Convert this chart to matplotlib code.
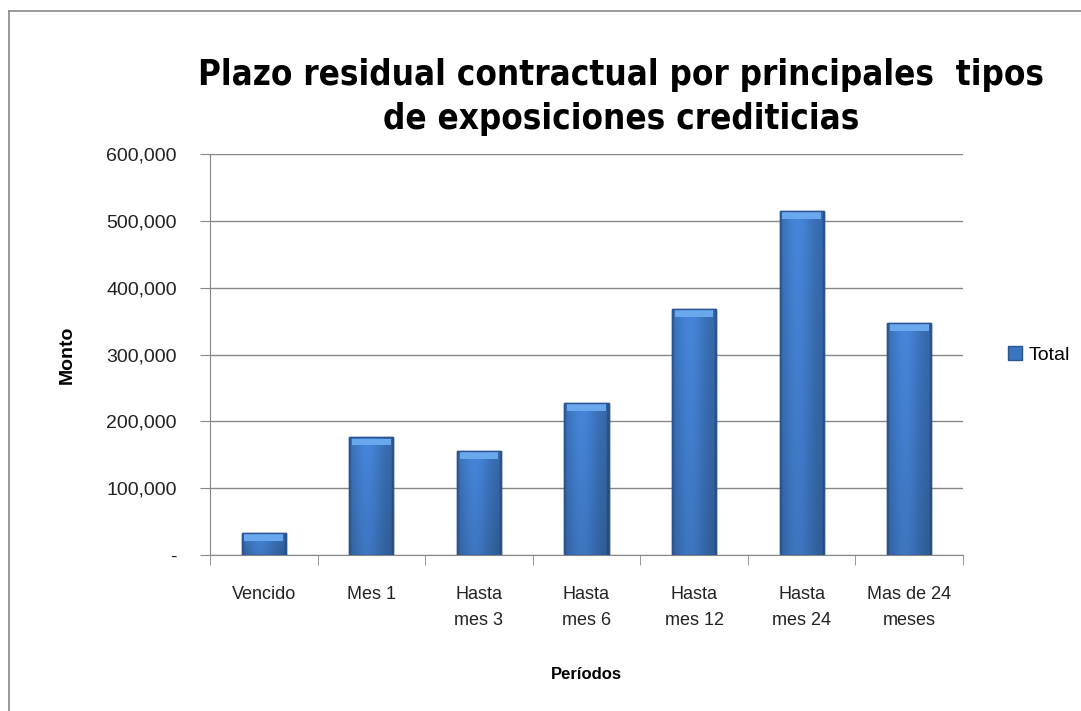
import matplotlib
matplotlib.use("Agg")
import matplotlib.pyplot as plt
from matplotlib.patches import Rectangle
from matplotlib.lines import Line2D
from matplotlib.ticker import FuncFormatter, MultipleLocator
import numpy as np

# ------------------- data -------------------
categories = ["Vencido", "Mes 1", "Hasta\nmes 3", "Hasta\nmes 6",
              "Hasta\nmes 12", "Hasta\nmes 24", "Mas de 24\nmeses"]
totals = [33000, 176000, 156000, 228000, 368000, 515000, 347000]

TITLE = "Plazo residual contractual por principales  tipos\nde exposiciones crediticias"
GRID = "#878787"
FONT = "Liberation Sans"

W, H = 1081, 711
fig = plt.figure(figsize=(W / 100, H / 100), dpi=100)
ax = fig.add_axes([210 / W, 1 - 555 / H, (963 - 210) / W, (555 - 154) / H])

x = np.arange(len(categories))
bars = ax.bar(x, totals, width=0.41, color="#3b74bf", edgecolor="#2a5590",
              linewidth=1.0, zorder=3, label="Total")

# simple bevel/gradient look for each bar
nx, ny = 60, 60
hx = np.linspace(0, 1, nx)
prof_h = 0.82 + 0.25 * np.exp(-((hx - 0.4) / 0.35) ** 2)
prof_h[:3] *= 0.85
prof_h[-3:] *= 0.8
vy = np.linspace(0, 1, ny)[:, None]
prof_v = 1.0 - 0.12 * vy
base = np.array([0.255, 0.49, 0.80])
img = np.clip(base[None, None, :] * prof_h[None, :, None] * prof_v[..., None], 0, 1)
cap = 8 * 600000 / 401  # ~8 px highlight at top of bar
for b in bars:
    x0, w, h = b.get_x(), b.get_width(), b.get_height()
    im = ax.imshow(img, extent=(x0, x0 + w, 0, h), aspect="auto",
                   zorder=3.5, interpolation="bilinear")
    im.set_clip_path(b)
    ax.add_patch(Rectangle((x0 + w * 0.06, h - cap), w * 0.88, cap * 0.85,
                           facecolor="#6aa8ee", edgecolor="none", zorder=4))
    ax.add_patch(Rectangle((x0, 0), w, h, facecolor="none",
                           edgecolor="#2a5590", linewidth=1.0, zorder=4.5))

ax.set_xlim(-0.5, len(categories) - 0.5)
ax.set_ylim(0, 600000)
ax.yaxis.set_major_locator(MultipleLocator(100000))
ax.yaxis.set_major_formatter(FuncFormatter(lambda v, p: "-" if v == 0 else f"{v:,.0f}"))
ax.set_xticks(x)
ax.set_xticklabels(categories, fontsize=13, family=FONT, linespacing=1.75)
ax.set_xticks(np.arange(len(categories) + 1) - 0.5, minor=True)
ax.tick_params(axis="x", which="major", length=0, pad=22)
ax.tick_params(axis="x", which="minor", length=7, color=GRID, direction="out")
ax.tick_params(axis="y", length=7, color=GRID, labelsize=14, pad=17)
for lab in ax.get_yticklabels():
    lab.set_family(FONT)
    lab.set_color("#222222")
for lab in ax.get_xticklabels():
    lab.set_color("#222222")

ax.grid(axis="y", color=GRID, linewidth=1.0, zorder=0)
for s in ["top", "right"]:
    ax.spines[s].set_visible(False)
ax.spines["left"].set_color(GRID)
ax.spines["bottom"].set_color(GRID)

ax.set_ylabel("Monto", fontsize=14, fontweight="bold", family=FONT, labelpad=22)
ax.set_xlabel("Períodos", fontsize=12, fontweight="bold", family=FONT, labelpad=27)

fig.text(621 / W, 1 - 97 / H, TITLE, ha="center", va="center",
         fontsize=25, fontweight="bold", family="DejaVu Sans", stretch="condensed",
         linespacing=1.4)

leg = fig.legend(handles=[Rectangle((0, 0), 1, 1, facecolor="#3b74bf", edgecolor="#2a5590")],
                 labels=["Total"], loc="center left",
                 bbox_to_anchor=(1000 / W, 1 - 355 / H), frameon=False,
                 prop={"family": FONT, "size": 14}, handlelength=0.75,
                 handleheight=0.75, handletextpad=0.3, borderaxespad=0)

# outer chart border (left and top visible)
fig.add_artist(Line2D([9 / W, 9 / W], [0, 1 - 11 / H], color=GRID, lw=1.2,
                      transform=fig.transFigure))
fig.add_artist(Line2D([9 / W, 1], [1 - 11 / H, 1 - 11 / H], color=GRID, lw=1.2,
                      transform=fig.transFigure))

fig.savefig("out.png", dpi=100)
